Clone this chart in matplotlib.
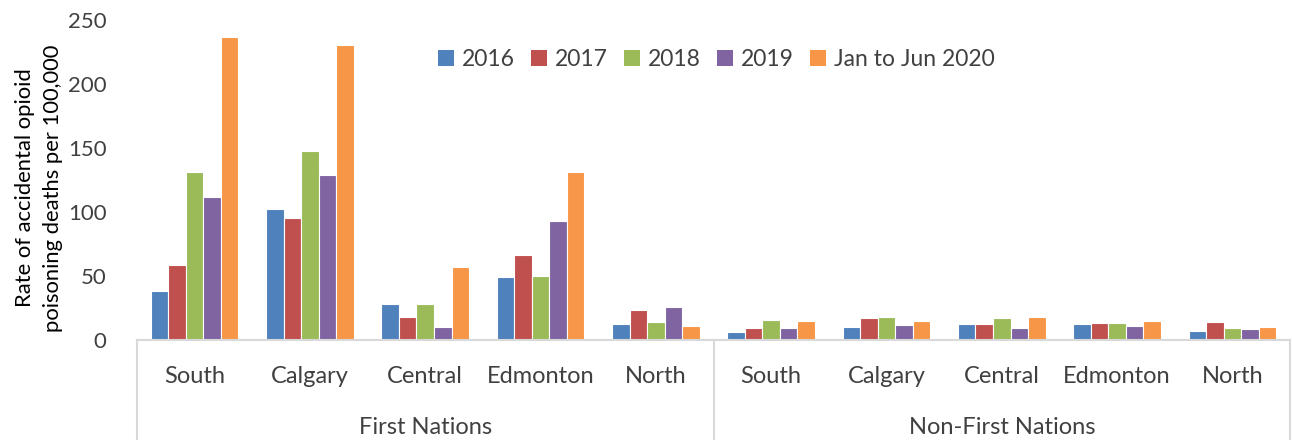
import matplotlib
matplotlib.use("Agg")
import matplotlib.pyplot as plt
import matplotlib.transforms as mtransforms
from matplotlib.patches import Patch
import numpy as np

regions = ["South", "Calgary", "Central", "Edmonton", "North"]
groups = ["First Nations", "Non-First Nations"]
series_names = ["2016", "2017", "2018", "2019", "Jan to Jun 2020"]
colors = ["#4F81BD", "#C0504D", "#9BBB59", "#8064A2", "#F79646"]

# values: First Nations regions then Non-First Nations regions
v2016 = [38.2, 102.4, 28.3, 49.5, 12.3, 6.5, 10.2, 12.8, 12.8, 7.3]
v2017 = [58.4, 95.5, 18.3, 66.5, 23.3, 9.7, 16.8, 12.3, 13.6, 13.9]
v2018 = [131.2, 147.9, 28.3, 49.7, 14.4, 15.7, 18.3, 16.8, 13.6, 9.7]
v2019 = [111.5, 129.0, 9.8, 92.9, 25.9, 9.7, 12.0, 9.2, 10.7, 8.9]
v2020 = [236.7, 230.2, 57.3, 130.9, 10.7, 15.2, 14.9, 17.8, 15.2, 10.2]
series = [v2016, v2017, v2018, v2019, v2020]

yticks = [0, 50, 100, 150, 200, 250]
ylabel = "Rate of accidental opioid\npoisoning deaths per 100,000"

plt.rcParams['font.family'] = ['Lato', 'DejaVu Sans']
text_color = "#404040"
axis_color = "#D9D9D9"
fs = 16

W, H = 1292, 440
fig = plt.figure(figsize=(W / 100, H / 100), dpi=100)
ax = fig.add_axes([137 / W, 100 / H, (1290 - 137) / W, 320 / H])

n_cat = len(regions) * len(groups)
x = np.arange(n_cat)
slot = 0.152
for i, (vals, c) in enumerate(zip(series, colors)):
    ax.bar(x + (i - 2) * slot, vals, width=slot, color=c,
           edgecolor="white", linewidth=0.8)

ax.set_xlim(-0.5, n_cat - 0.5)
ax.set_ylim(0, 250)
ax.set_yticks(yticks)
ax.tick_params(axis="y", length=0, pad=22, labelsize=fs, labelcolor=text_color)
ax.set_xticks([])
for s in ["top", "right", "left"]:
    ax.spines[s].set_visible(False)
ax.spines["bottom"].set_color(axis_color)
ax.spines["bottom"].set_linewidth(1.5)

trans = mtransforms.blended_transform_factory(ax.transData, ax.transAxes)
cat_labels = regions * len(groups)
for xi, lab in zip(x, cat_labels):
    ax.text(xi, -36 / 320, lab, transform=trans, ha="center", va="center",
            fontsize=17, color=text_color)
for gi, g in enumerate(groups):
    xc = gi * len(regions) + (len(regions) - 1) / 2
    ax.text(xc, -87 / 320, g, transform=trans, ha="center", va="center",
            fontsize=17, color=text_color)
for xb in [-0.5, 4.5, 9.5]:
    ax.plot([xb, xb], [0, -100 / 320], transform=trans, color=axis_color,
            linewidth=1.5, clip_on=False)

fig.text(39 / W, 1 - 188 / H, ylabel, rotation=90, ha="center", va="center",
         fontsize=15.8, color="black", linespacing=1.5)

handles = [Patch(facecolor=c, edgecolor="none") for c in colors]
leg = fig.legend(handles, series_names, loc="center", bbox_to_anchor=(716 / W, 1 - 60 / H),
                 ncol=5, frameon=False, fontsize=16.5, handlelength=0.7, handleheight=0.7,
                 handletextpad=0.35, columnspacing=0.7)
for t in leg.get_texts():
    t.set_color(text_color)

fig.savefig("out.png", dpi=100)
